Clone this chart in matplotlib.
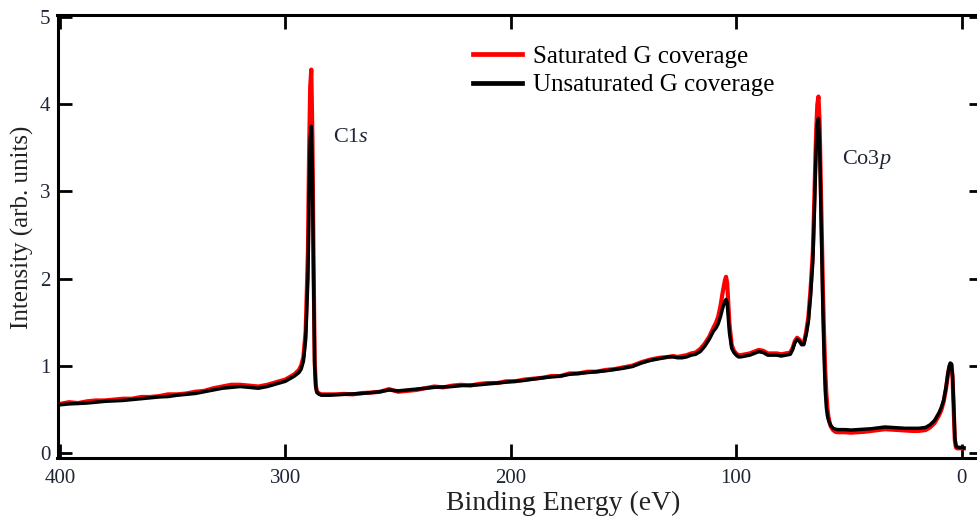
import matplotlib
matplotlib.use("Agg")
import matplotlib.pyplot as plt
from matplotlib.lines import Line2D

plt.rcParams['font.family'] = ['Liberation Serif', 'DejaVu Serif']
plt.rcParams['mathtext.fontset'] = 'custom'
plt.rcParams['mathtext.rm'] = 'Liberation Serif'
plt.rcParams['mathtext.it'] = 'Liberation Serif:italic'

# ---------------- data ----------------
energy = [400, 396, 392, 388, 384, 380, 376, 372, 368, 364, 360, 356, 352, 348, 344, 340,
          336, 332, 328, 324, 320, 316, 312, 308, 304, 300,
          298, 296, 294, 293, 292, 291, 290, 289.5, 289, 288.5, 288, 287.5, 287, 286.5, 286,
          285, 284, 282, 280,
          278, 274, 270, 266, 262, 258, 254, 250, 246, 242, 238, 234, 230, 226, 222, 218,
          214, 210, 206, 202, 198, 194, 190, 186, 182, 178, 174, 170, 166, 162, 158, 154,
          150, 146, 142, 138, 134, 130,
          128, 126, 124, 122, 120, 118, 116, 114, 112, 110, 109, 108, 107, 106, 105, 104.5,
          104, 103.5, 103, 102, 101, 100, 99, 98, 96, 94, 92, 90, 88, 86, 84, 82, 80, 78,
          76, 75, 74, 73, 72, 71, 70, 69, 68, 67, 66, 65.5, 65, 64.5, 64, 63.5, 63, 62.5, 62,
          61.5, 61, 60.5, 60, 59.5, 59, 58.5, 58, 57, 56, 55,
          52, 49, 46, 43, 40, 37, 34, 31, 28, 25, 22, 19, 16, 14, 12, 10, 9, 8, 7, 6.5, 6,
          5.5, 5, 4.5, 4, 3.5, 3, 2.5, 2, 1, 0, -1]

saturated = [0.56, 0.58, 0.57, 0.59, 0.60, 0.60, 0.61, 0.62, 0.62, 0.64, 0.64, 0.65, 0.67, 0.67,
             0.68, 0.70, 0.71, 0.74, 0.76, 0.78, 0.78, 0.77, 0.76, 0.78, 0.81, 0.84,
             0.87, 0.90, 0.95, 1.00, 1.10, 1.40, 2.30, 3.40, 4.20, 4.40, 3.60, 2.20, 1.05, 0.77,
             0.70, 0.68, 0.67, 0.67, 0.67,
             0.67, 0.675, 0.67, 0.685, 0.69, 0.70, 0.73, 0.70, 0.71, 0.72, 0.74, 0.76, 0.75,
             0.77, 0.78, 0.77, 0.79, 0.80, 0.80, 0.82, 0.82, 0.84, 0.85, 0.86, 0.88, 0.88, 0.91,
             0.91, 0.93, 0.93, 0.95, 0.96, 0.98, 1.00, 1.04, 1.07, 1.09, 1.10,
             1.11, 1.10, 1.11, 1.12, 1.14, 1.15, 1.19, 1.25, 1.33, 1.44, 1.49, 1.56, 1.68, 1.84,
             1.98, 2.02, 1.95, 1.72, 1.48, 1.24, 1.17, 1.14, 1.12, 1.12, 1.13, 1.14, 1.16, 1.18,
             1.17, 1.14, 1.14, 1.14, 1.13, 1.14,
             1.15, 1.20, 1.28, 1.32, 1.30, 1.26, 1.26, 1.38, 1.55, 1.88, 2.30, 2.75, 3.25, 3.70,
             4.00, 4.09, 3.80, 3.15, 2.45, 1.85, 1.35, 0.95, 0.68, 0.50, 0.40, 0.34, 0.30, 0.26,
             0.24, 0.235,
             0.235, 0.23, 0.235, 0.24, 0.25, 0.26, 0.27, 0.265, 0.26, 0.255, 0.25, 0.25, 0.26,
             0.29, 0.34, 0.43, 0.49, 0.58, 0.72, 0.81, 0.91, 0.98, 1.02, 1.01, 0.86, 0.50, 0.14,
             0.06, 0.05, 0.05, 0.05, 0.05]

unsaturated = [0.55, 0.56, 0.565, 0.57, 0.58, 0.59, 0.595, 0.60, 0.61, 0.62, 0.63, 0.64, 0.645,
               0.66, 0.67, 0.68, 0.70, 0.72, 0.74, 0.75, 0.76, 0.75, 0.74, 0.76, 0.79, 0.82,
               0.85, 0.88, 0.92, 0.96, 1.05, 1.30, 2.00, 2.90, 3.60, 3.75, 3.20, 2.00, 1.00, 0.75,
               0.69, 0.67, 0.66, 0.66, 0.66,
               0.665, 0.67, 0.675, 0.68, 0.69, 0.70, 0.72, 0.71, 0.72, 0.73, 0.74, 0.75, 0.755,
               0.76, 0.77, 0.775, 0.78, 0.79, 0.80, 0.81, 0.82, 0.83, 0.845, 0.86, 0.87, 0.88,
               0.90, 0.91, 0.92, 0.93, 0.94, 0.955, 0.97, 0.99, 1.03, 1.06, 1.08, 1.10,
               1.10, 1.09, 1.09, 1.10, 1.12, 1.13, 1.16, 1.22, 1.30, 1.40, 1.43, 1.48, 1.56, 1.66,
               1.74, 1.76, 1.72, 1.55, 1.38, 1.20, 1.15, 1.12, 1.10, 1.10, 1.11, 1.12, 1.14, 1.16,
               1.15, 1.12, 1.12, 1.12, 1.11, 1.12,
               1.13, 1.18, 1.26, 1.30, 1.28, 1.24, 1.24, 1.35, 1.50, 1.80, 2.20, 2.60, 3.05, 3.50,
               3.78, 3.84, 3.55, 2.90, 2.20, 1.60, 1.10, 0.72, 0.52, 0.42, 0.37, 0.34, 0.31, 0.28,
               0.27, 0.265,
               0.265, 0.26, 0.265, 0.27, 0.275, 0.285, 0.295, 0.29, 0.285, 0.28, 0.28, 0.28, 0.29,
               0.32, 0.37, 0.46, 0.52, 0.60, 0.74, 0.83, 0.92, 0.99, 1.03, 1.02, 0.88, 0.55, 0.18,
               0.08, 0.065, 0.06, 0.06, 0.055]

series_labels = ["Saturated G coverage", "Unsaturated G coverage"]
x_ticks = [400, 300, 200, 100, 0]
y_ticks = [0, 1, 2, 3, 4, 5]
peak_labels = [("C1$\\mathit{s}$", 278.9, 3.62), ("Co3$\\mathit{p}$", 53.1, 3.37)]

# ---------------- figure ----------------
W, H = 977, 517
fig = plt.figure(figsize=(W / 100, H / 100), dpi=100)
left_px, right_px, top_px, bot_px = 57.5, 983, 14.7, 458
ax = fig.add_axes([left_px / W, 1 - bot_px / H, (right_px - left_px) / W, (bot_px - top_px) / H])

ax.plot(energy, saturated, color='#ff0000', lw=3.0, solid_joinstyle='round', zorder=2)
ax.plot(energy, unsaturated, color='#000000', lw=2.5, solid_joinstyle='round', zorder=3)

ax.set_xlim(401.1, -9.5)
ax.set_ylim(-0.061, 5.03)
ax.set_xticks(x_ticks)
ax.set_yticks(y_ticks)
ax.set_xticklabels([str(v) for v in x_ticks])
ax.set_yticklabels([str(v) for v in y_ticks])

tick_color = '#1e2535'
ax.tick_params(direction='in', length=10, width=2.0, top=True, right=True,
               labelsize=15, colors='black', labelcolor=tick_color)
ax.tick_params(axis='x', pad=8)
ax.tick_params(axis='y', pad=5)
for s in ax.spines.values():
    s.set_linewidth(2.2)

fig.text(563 / W, 1 - 503 / H, "Binding Energy (eV)", fontsize=20, color='#222222',
         ha='center', va='center')
fig.text(22 / W, 1 - 227 / H, "Intensity (arb. units)", fontsize=18, color='#222222',
         ha='center', va='center', rotation=90)

for txt, xv, yv in peak_labels:
    ax.text(xv, yv, txt, fontsize=16, color='#1e2535', ha='left', va='center')

handles = [Line2D([], [], color='#ff0000', lw=3.4), Line2D([], [], color='#000000', lw=3.4)]
ax.legend(handles, series_labels, loc='upper left', bbox_to_anchor=(473 / W, 1 - 45 / H),
          bbox_transform=fig.transFigure, frameon=False, borderpad=0, borderaxespad=0,
          handlelength=1.95, handletextpad=0.45, labelspacing=0.25, fontsize=18)

fig.savefig("out.png", dpi=100)
